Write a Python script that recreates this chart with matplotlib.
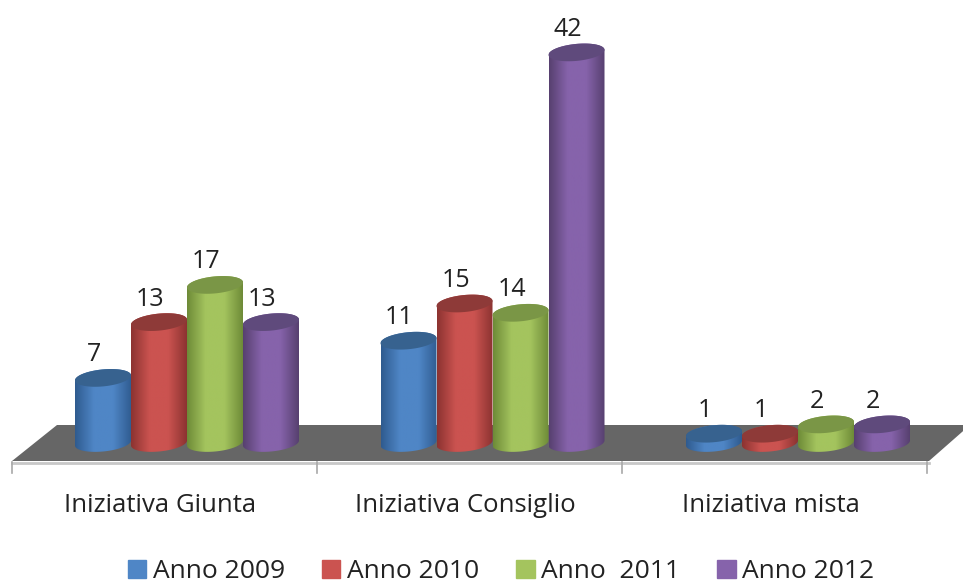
import numpy as np
import matplotlib
matplotlib.use('Agg')
import matplotlib.pyplot as plt
from matplotlib.colors import LinearSegmentedColormap
from matplotlib.patches import Polygon, Patch
from matplotlib.path import Path
from matplotlib.transforms import Affine2D

categories = ['Iniziativa Giunta', 'Iniziativa Consiglio', 'Iniziativa mista']
series = ['Anno 2009', 'Anno 2010', 'Anno  2011', 'Anno 2012']
anno_2009 = [7, 11, 1]
anno_2010 = [13, 15, 1]
anno_2011 = [17, 14, 2]
anno_2012 = [13, 42, 2]

values = [anno_2009, anno_2010, anno_2011, anno_2012]
# edge, middle, top cap colours
colors = [('#2f5b8f', '#4f86c6', '#37628f'),
          ('#8c3331', '#cb5350', '#8e3a38'),
          ('#6e8b38', '#a4c45e', '#7a9646'),
          ('#57406f', '#8663ab', '#5f4a7c')]

W, H = 963, 583
plt.rcParams['font.family'] = ['Open Sans', 'DejaVu Sans']
fig = plt.figure(figsize=(W/100, H/100), dpi=100)
ax = fig.add_axes([0, 0, 1, 1])

# one category = 305.5 px, one unit = 9.3 px, zero at (187, 443)
xu, yu = 305.5, 9.3
xlim = (-187/xu, (W-187)/xu)
ylim = ((443-H)/yu, 443/yu)
ax.axis('off')

# floor and ticks are plain decoration, placed in pixels
px = Affine2D().scale(1, -1).translate(0, H)
ax.add_patch(Polygon([(12, 461), (57, 425), (970, 425), (929, 461)], color='#666666',
                     transform=px, lw=0, zorder=1))
ax.plot([12, 929], [462.5, 462.5], color='#c8c8c8', lw=2, transform=px, zorder=1)
for tx in [12, 317, 622, 927]:
    ax.plot([tx, tx], [462, 473], color='#a8a8a8', lw=1.2, transform=px, zorder=1)

rx = 28/xu
ry = 8.5/yu
tilt = 0.09
t = np.linspace(0, 2*np.pi, 81)

def cap(xc, yc):
    xs = xc + rx*np.cos(t)
    ys = yc + ry*np.sin(t) + tilt*(xs-xc)*xu/yu
    return np.column_stack([xs, ys])

cx = np.arange(len(categories))
z = 3
for i, vals in enumerate(values):
    edge, mid, top = colors[i]
    cmap = LinearSegmentedColormap.from_list('c', [edge, mid, mid, edge], N=128)
    grad = np.linspace(0, 1, 128).reshape(1, -1)
    for j, v in enumerate(vals):
        xc = cx[j] + (i-1.5)*56/xu
        bot = cap(xc, 0)
        tp = cap(xc, v)
        # lower half of the base, upper side up to the cap centre
        outline = np.vstack([bot[40:81], tp[:41]])
        im = ax.imshow(grad, cmap=cmap, extent=[xc-rx, xc+rx, -3, v+3],
                       aspect='auto', zorder=z, interpolation='bilinear')
        im.set_clip_path(Path(np.vstack([outline, outline[0]])), ax.transData)
        ax.add_patch(Polygon(tp, color=top, lw=0, zorder=z+0.5))
        ax.text(xc - 9/xu, v + 23/yu, str(v), ha='center', va='center', fontsize=18,
                color='#222222', zorder=30)
        z += 1

ax.set_xlim(*xlim)
ax.set_ylim(*ylim)

for j, c in enumerate(categories):
    ax.text(cx[j]-27/xu, (443-505)/yu, c, ha='center', va='center', fontsize=18.5,
            color='#222222')

handles = [Patch(color=colors[i][1], label=series[i]) for i in range(4)]
fig.legend(handles=handles, loc='center', bbox_to_anchor=(501/W, 1-571.5/H), ncol=4,
           frameon=False, fontsize=19, handlelength=0.7, handleheight=0.7,
           handletextpad=0.25, columnspacing=1.4, labelcolor='#222222',
           borderpad=0)

fig.savefig('out.png', dpi=100, facecolor='white')
